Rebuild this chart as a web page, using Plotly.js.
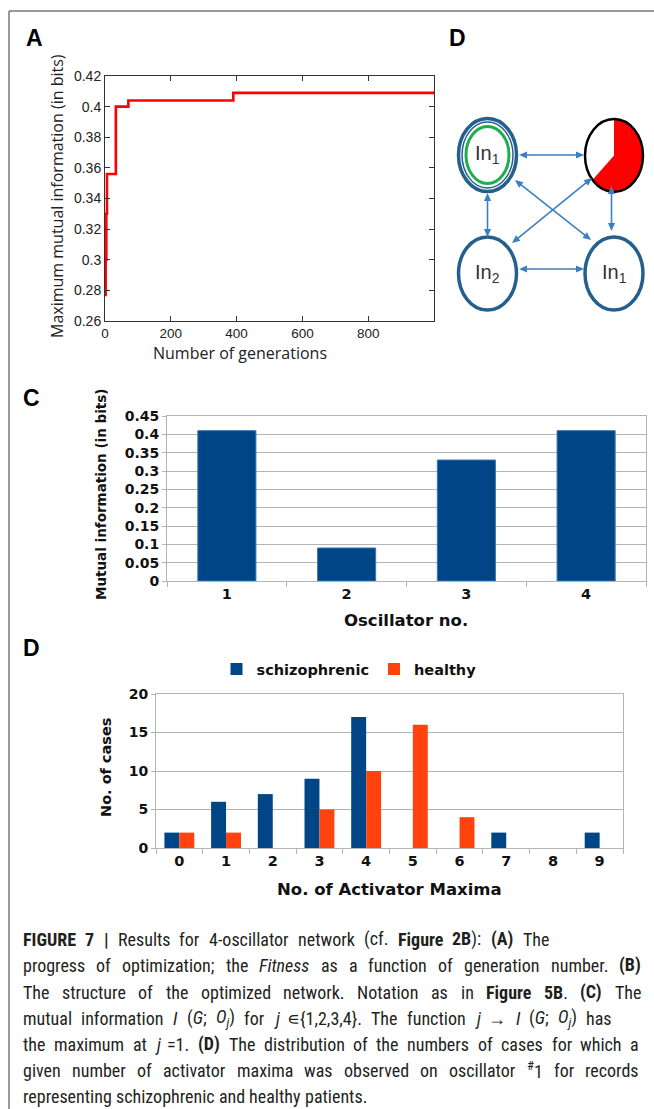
<!DOCTYPE html>
<html><head><meta charset="utf-8">
<script src="https://cdn.plot.ly/plotly-3.0.1.min.js"></script>
<style>html,body{margin:0;padding:0;background:#fff}#chart{width:654px;height:1109px}
#measure{position:absolute;left:-5000px;top:0;white-space:nowrap;visibility:hidden}
#measure sub,#measure sup{font-size:70%}</style>
</head><body><div id="chart"></div><span id="measure"></span>
<script>
// ---- Panel A: optimisation progress ----
const generations = [0, 2, 4, 6, 33, 71, 390, 1000];
const maxMutualInfo = [0.277, 0.30, 0.33, 0.356, 0.400, 0.404, 0.409, 0.409];
const genTicks = [0, 200, 400, 600, 800];

// ---- Panel C: mutual information per oscillator ----
const oscillators = ['1', '2', '3', '4'];
const mutualInfo = [0.41, 0.09, 0.33, 0.41];

// ---- Panel D: distribution of activator maxima ----
const activatorMaxima = ['0', '1', '2', '3', '4', '5', '6', '7', '8', '9'];
const schizophrenic = [2, 6, 7, 9, 17, 0, 0, 2, 0, 2];
const healthy = [2, 2, 0, 5, 10, 16, 4, 0, 0, 0];
const seriesNames = ['schizophrenic', 'healthy'];

// ---- Caption ----
const captionLines = [
  '<b>FIGURE 7 |</b> Results for 4-oscillator network (cf. <b>Figure 2B</b>): <b>(A)</b> The',
  'progress of optimization; the <i>Fitness</i> as a function of generation number. <b>(B)</b>',
  'The structure of the optimized network. Notation as in <b>Figure 5B</b>. <b>(C)</b> The',
  'mutual information <i>I</i> (<i>G</i>; <i>O<sub>j</sub></i>) for <i>j</i> \u220a{1,2,3,4}. The function <i>j</i> \u2192 <i>I</i> (<i>G</i>; <i>O<sub>j</sub></i>) has',
  'the maximum at <i>j</i> =1. <b>(D)</b> The distribution of the numbers of cases for which a',
  'given number of activator maxima was observed on oscillator <sup>#</sup>1 for records',
  'representing schizophrenic and healthy patients.'
];
const captionLineEnds = [548, 640, 640, 611, 638, 638, null];

const W = 654, H = 1109;
const px = x => x / W;
const py = y => 1 - y / H;

const BLUE = '#004586', ORANGE = '#ff420e', GRID = '#b3b3b3';
const ARIAL = 'Liberation Sans, Arial, sans-serif';
const DEJA = 'DejaVu Sans, Verdana, sans-serif';

// pick a condensed caption font if one is installed
const meas = document.getElementById('measure');
function widthIn(family, html, size) {
  meas.style.fontFamily = family; meas.style.fontSize = size + 'px';
  meas.innerHTML = html;
  return meas.getBoundingClientRect().width;
}
let CAPFONT = ARIAL, capSize = 16.5;
const probe = 'abcdefghijklmnopqrstuvwxyz ABCDEFG';
const monoW = widthIn('monospace', probe, 20);
for (const f of ['Liberation Sans Narrow', 'Arial Narrow', 'Roboto Condensed', 'DejaVu Sans Condensed']) {
  if (Math.abs(widthIn('"' + f + '", monospace', probe, 20) - monoW) > 1) {
    CAPFONT = '"' + f + '", ' + ARIAL;
    capSize = 18;
    break;
  }
}

const traces = [
  {type: 'scatter', mode: 'lines', x: generations, y: maxMutualInfo, xaxis: 'x', yaxis: 'y',
   line: {color: '#ff0000', width: 2.6, shape: 'hv'}, showlegend: false, hoverinfo: 'skip'},
  {type: 'bar', x: oscillators, y: mutualInfo, xaxis: 'x2', yaxis: 'y2', width: 0.485,
   marker: {color: BLUE, line: {color: '#3a76b4', width: 1}}, showlegend: false},
  {type: 'bar', name: seriesNames[0], x: activatorMaxima, y: schizophrenic, xaxis: 'x3', yaxis: 'y3',
   width: 0.32, offset: -0.32, marker: {color: BLUE, line: {width: 0}}},
  {type: 'bar', name: seriesNames[1], x: activatorMaxima, y: healthy, xaxis: 'x3', yaxis: 'y3',
   width: 0.32, offset: 0, marker: {color: ORANGE, line: {width: 0}}}
];

const shapes = [];
const annotations = [];

// frame lines
shapes.push({type: 'line', xref: 'paper', yref: 'paper', x0: px(9), x1: px(654), y0: py(11), y1: py(11), line: {color: '#777', width: 1.5}});
shapes.push({type: 'line', xref: 'paper', yref: 'paper', x0: px(9), x1: px(9), y0: py(11), y1: py(1109), line: {color: '#777', width: 1.5}});

// panel letters
function label(t, x, y) {
  annotations.push({text: '<b>' + t + '</b>', xref: 'paper', yref: 'paper', x: px(x), y: py(y),
    showarrow: false, xanchor: 'center', yanchor: 'middle', font: {family: ARIAL, size: 23, color: '#000'}});
}
label('A', 34, 38); label('D', 458, 38); label('C', 31, 398); label('D', 31, 648);

// axis titles
function atitle(t, x, y, font, angle) {
  annotations.push({text: t, xref: 'paper', yref: 'paper', x: px(x), y: py(y), showarrow: false,
    xanchor: 'center', yanchor: 'middle', textangle: angle || 0, font: font});
}
atitle('Number of generations', 240, 353, {family: 'Open Sans, sans-serif', size: 16, color: '#222'});
atitle('Maximum mutual information (in bits)', 57, 196, {family: 'Open Sans, sans-serif', size: 16, color: '#222'}, -90);
atitle('Oscillator no.', 406, 620, {family: DEJA, size: 16.5, color: '#111', weight: 700});
atitle('Mutual information (in bits)', 101, 494, {family: DEJA, size: 13.5, color: '#111', weight: 700}, -90);
atitle('No. of Activator Maxima', 389, 889, {family: DEJA, size: 16.5, color: '#111', weight: 700});
atitle('No. of cases', 106, 768, {family: DEJA, size: 14.5, color: '#111', weight: 700}, -90);

// ---- network diagram ----
const RX = 29, RY = 36.5;
const RING = '#245f8e', ARROW = '#3a80c2';
function ell(cx, cy, rx, ry, color, width, fill) {
  shapes.push({type: 'circle', xref: 'paper', yref: 'paper', x0: px(cx - rx), x1: px(cx + rx),
    y0: py(cy + ry), y1: py(cy - ry), line: {color: color, width: width}, fillcolor: fill || 'rgba(0,0,0,0)'});
}
const nodes = {tl: [487.5, 155], tr: [614, 155.5], bl: [487.5, 273.5], br: [614, 273.5]};
ell(nodes.tl[0], nodes.tl[1], RX, RY, RING, 3.5, '#fff');
ell(nodes.tl[0], nodes.tl[1], RX - 3.5, RY - 3.5, RING, 1.5);
ell(nodes.tl[0], nodes.tl[1], 21.5, 28.5, '#1fae4b', 3);
ell(nodes.bl[0], nodes.bl[1], RX, RY, RING, 3.5, '#fff');
ell(nodes.br[0], nodes.br[1], RX, RY, RING, 3.5, '#fff');
ell(nodes.tr[0], nodes.tr[1], RX, RY, 'rgba(0,0,0,0)', 0, '#fff');
(function () {
  const [cx, cy] = nodes.tr, a0 = 0, a1 = 228, n = 60;
  let d = 'M ' + px(cx) + ',' + py(cy);
  for (let i = 0; i <= n; i++) {
    const t = (a0 + (a1 - a0) * i / n) * Math.PI / 180;
    d += ' L ' + px(cx + RX * Math.sin(t)) + ',' + py(cy - RY * Math.cos(t));
  }
  shapes.push({type: 'path', xref: 'paper', yref: 'paper', path: d + ' Z', fillcolor: '#ff0000', line: {width: 0}});
})();
ell(nodes.tr[0], nodes.tr[1], RX, RY, '#000', 2.5);

function head(xt, yt, ux, uy) {
  const L = 8, hw = 3.6;
  const bx = xt - ux * L, by = yt - uy * L;
  const nx = -uy, ny = ux;
  const p = [[xt, yt], [bx + nx * hw, by + ny * hw], [bx - nx * hw, by - ny * hw]];
  const d = 'M ' + p.map(q => px(q[0]) + ',' + py(q[1])).join(' L ') + ' Z';
  shapes.push({type: 'path', xref: 'paper', yref: 'paper', path: d, fillcolor: ARROW, line: {width: 0}});
}
function arrow(x1, y1, x2, y2) {
  const len = Math.hypot(x2 - x1, y2 - y1), ux = (x2 - x1) / len, uy = (y2 - y1) / len;
  shapes.push({type: 'line', xref: 'paper', yref: 'paper', x0: px(x1 + ux * 5), y0: py(y1 + uy * 5),
    x1: px(x2 - ux * 5), y1: py(y2 - uy * 5), line: {color: ARROW, width: 1.6}});
  head(x2, y2, ux, uy);
  head(x1, y1, -ux, -uy);
}
arrow(519, 155, 584, 155);
arrow(519, 269, 584, 269);
arrow(487.5, 193, 487.5, 237);
arrow(611.5, 186, 611.5, 231);
arrow(515, 180, 591, 240);
arrow(592, 178, 512, 243);

function nodeText(t, c) {
  annotations.push({text: t, xref: 'paper', yref: 'paper', x: px(c[0]), y: py(c[1]), showarrow: false,
    xanchor: 'center', yanchor: 'middle', font: {family: ARIAL, size: 20, color: '#333'}});
}
nodeText('In<sub>1</sub>', nodes.tl);
nodeText('In<sub>2</sub>', nodes.bl);
nodeText('In<sub>1</sub>', nodes.br);

// ---- caption (justified word by word) ----
function splitWords(line) {
  const words = []; let cur = ''; const open = [];
  const re = /(<\/?[a-z]+>)|([^<]+)/g; let m;
  while ((m = re.exec(line))) {
    if (m[1]) {
      const tag = m[1];
      if (tag[1] === '/') open.pop(); else open.push(tag.replace(/[<>]/g, ''));
      cur += tag;
    } else {
      const parts = m[2].split(' ');
      parts.forEach((p, k) => {
        if (k > 0) {
          const closing = open.slice().reverse().map(t => '</' + t + '>').join('');
          const opening = open.map(t => '<' + t + '>').join('');
          words.push(cur + closing); cur = opening;
        }
        cur += p;
      });
    }
  }
  words.push(cur);
  return words.filter(w => w.replace(/<[^>]+>/g, '').length > 0);
}
const capY = [939, 965, 992, 1018, 1044, 1070, 1096];
const spaceW = widthIn(CAPFONT, 'a a', capSize) - widthIn(CAPFONT, 'aa', capSize);
captionLines.forEach((line, i) => {
  const words = splitWords(line);
  const widths = words.map(w => widthIn(CAPFONT, w, capSize));
  const sum = widths.reduce((a, b) => a + b, 0);
  let gap = spaceW;
  if (captionLineEnds[i] && words.length > 1) {
    gap = (captionLineEnds[i] - 22 - sum) / (words.length - 1);
    if (gap < spaceW * 0.8) gap = spaceW;
  }
  let x = 22;
  words.forEach((w, k) => {
    annotations.push({text: w, xref: 'paper', yref: 'paper', x: px(x), y: py(capY[i]), showarrow: false,
      xanchor: 'left', yanchor: 'middle', align: 'left', borderpad: 0,
      font: {family: CAPFONT, size: capSize, color: '#231f20'}});
    x += widths[k] + gap;
  });
});

const chartAxisY = {showline: true, linecolor: GRID, linewidth: 1, mirror: true, showgrid: true, gridcolor: GRID,
  zeroline: false, ticks: 'outside', ticklen: 4, tickcolor: GRID, fixedrange: true,
  tickfont: {family: DEJA, size: 14, color: '#111', weight: 700}};
const chartAxisX = {type: 'category', showline: true, linecolor: GRID, linewidth: 1, mirror: true, showgrid: false,
  zeroline: false, ticks: 'outside', tickson: 'boundaries', ticklen: 5, tickcolor: GRID, fixedrange: true,
  tickfont: {family: DEJA, size: 14.5, color: '#111', weight: 700}};

const layout = {
  width: W, height: H, margin: {l: 0, r: 0, t: 0, b: 0},
  paper_bgcolor: '#fff', plot_bgcolor: '#fff', barmode: 'overlay',
  showlegend: true,
  legend: {orientation: 'h', x: px(349), xanchor: 'center', y: py(669), yanchor: 'middle',
    font: {family: DEJA, size: 14.5, color: '#111', weight: 700}, itemwidth: 30, bgcolor: 'rgba(0,0,0,0)'},
  xaxis: {domain: [px(105), px(434)], range: [0, 1000], anchor: 'y', tickvals: genTicks,
    showline: true, linecolor: '#333', mirror: 'ticks', ticks: 'inside', ticklen: 5, tickcolor: '#333',
    showgrid: false, zeroline: false, tickfont: {family: ARIAL, size: 13.5, color: '#222'}},
  yaxis: {domain: [py(321), py(76)], range: [0.26, 0.42], dtick: 0.02, tick0: 0.26, anchor: 'x',
    showline: true, linecolor: '#333', mirror: 'ticks', ticks: 'inside', ticklen: 5, tickcolor: '#333',
    showgrid: false, zeroline: false, tickfont: {family: ARIAL, size: 14, color: '#222'}},
  xaxis2: Object.assign({}, chartAxisX, {domain: [px(167), px(646)], anchor: 'y2'}),
  yaxis2: Object.assign({}, chartAxisY, {domain: [py(581), py(416)], range: [0, 0.45], dtick: 0.05, anchor: 'x2'}),
  xaxis3: Object.assign({}, chartAxisX, {domain: [px(156), px(623)], anchor: 'y3'}),
  yaxis3: Object.assign({}, chartAxisY, {domain: [py(848), py(694)], range: [0, 20], dtick: 5, anchor: 'x3'}),
  shapes: shapes, annotations: annotations
};

Plotly.newPlot('chart', traces, layout, {displayModeBar: false, staticPlot: true});
</script></body></html>
